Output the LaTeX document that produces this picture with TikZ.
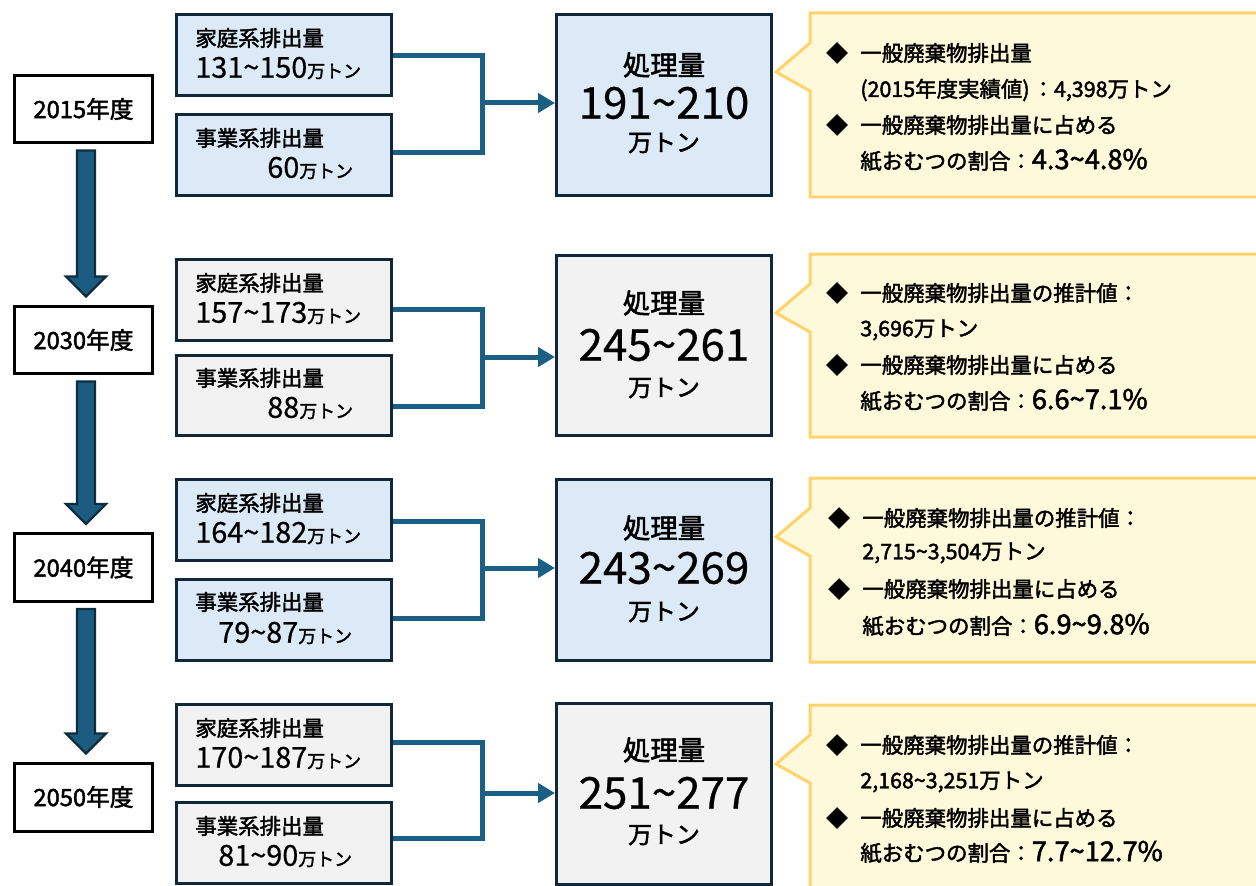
\documentclass[tikz,border=0pt]{standalone}
\usepackage{fontspec}
\setmainfont{Noto Sans CJK JP}[FakeBold=2]
\newfontfamily\regf{Noto Sans CJK JP}[FakeBold=0.6]
\usetikzlibrary{calc,arrows.meta}
\definecolor{navy}{HTML}{10283A}
\definecolor{lblue}{HTML}{DCE9F6}
\definecolor{lgray}{HTML}{F2F2F2}
\definecolor{cconn}{HTML}{1C5F84}
\definecolor{afill}{HTML}{1B5C80}
\definecolor{aedge}{HTML}{0D2C3E}
\definecolor{cfill}{HTML}{FFF9DB}
\definecolor{cedge}{HTML}{FFD36B}
\newcommand\flab{\fontsize{12.2pt}{14pt}\selectfont}
\newcommand\fnum{\regf\fontsize{16.4pt}{18pt}\selectfont}
\newcommand\fman{\rmfamily\fontsize{10.2pt}{12pt}\selectfont}
\newcommand\fyear{\fontsize{13.5pt}{16pt}\selectfont}
\newcommand\fshori{\fontsize{15.6pt}{18pt}\selectfont}
\newcommand\fbig{\regf\fontsize{25pt}{28pt}\selectfont}
\newcommand\fcman{\fontsize{13.6pt}{16pt}\selectfont}
\newcommand\fcal{\fontsize{12.2pt}{14pt}\selectfont}
\newcommand\fpct{\fontsize{15.5pt}{18pt}\selectfont}
\newcommand\tld{\textasciitilde}
\begin{document}
\begin{tikzpicture}[x=0.02cm,y=-0.02cm,
  inbox/.style={draw=navy,line width=0.06cm,inner sep=0,minimum width=4.30cm,minimum height=1.62cm},
  cbox/.style={draw=navy,line width=0.06cm,inner sep=0,minimum width=4.30cm,minimum height=3.62cm},
  ybox/.style={draw=black,fill=white,line width=0.06cm,inner sep=0,minimum width=2.78cm,minimum height=1.36cm,font=\fyear},
  lab/.style={anchor=west,inner sep=0,font=\flab},
  ctr/.style={anchor=center,inner sep=0},
  ctxt/.style={anchor=west,inner sep=0,font=\fcal},
  dia/.style={anchor=center,inner sep=0,font=\fcal},
  cline/.style={draw=cconn,line width=0.1cm},
  carrow/.style={cline,-{Triangle[length=0.34cm,width=0.38cm]}},
  barrow/.style={fill=afill,draw=aedge,line width=0.045cm,line join=miter},
  callout/.style={fill=cfill,draw=cedge,line width=0.06cm,line join=miter}]
\useasboundingbox (0,0) rectangle (1256,885);

% ---------- year boxes ----------
\node[ybox] (y1) at (83.5,109) {2015年度};
\node[ybox] (y2) at (83.5,340) {2030年度};
\node[ybox] (y3) at (83.5,567.5) {2040年度};
\node[ybox] (y4) at (83.5,797) {2050年度};

\newcommand\bigarrow[2]{\draw[barrow] ($(#1.south)+(-6.5,6)$) -- ($(#2.north)+(-6.5,-28)$) -- ($(#2.north)+(-17.5,-28)$) -- ($(#2.north)+(2.5,-8)$) -- ($(#2.north)+(22.5,-28)$) -- ($(#2.north)+(11.5,-28)$) -- ($(#1.south)+(11.5,6)$) -- cycle;}
\bigarrow{y1}{y2}
\bigarrow{y2}{y3}
\bigarrow{y3}{y4}

% ---------- callouts ----------
\newcommand\callout[2]{\draw[callout] (810,#1) -- (1270,#1) -- (1270,#2) -- (810,#2) -- (810,{#1+78}) -- (776,{#1+59}) -- (810,{#1+30}) -- cycle;}
\callout{13}{197}
\callout{254}{437}
\callout{478}{662}
\callout{705}{900}

% ---------- group 1 ----------
\node[inbox,fill=lblue] (a1) at (284,55) {};
\node[inbox,fill=lblue] (b1) at (284,155) {};
\node[cbox,fill=lblue] (c1) at (664,105) {};
\coordinate (j1) at (482,103);
\draw[cline] ($(a1.east)+(0,1)$) -| (j1) |- ($(b1.east)+(0,-2)$);
\draw[carrow] (j1) -- (c1.west |- j1);
\node[lab] (a1l) at (195,38) {家庭系排出量};
\node[lab] (a1n) at (195,68) {\fnum 131\tld150\fman 万トン};
\node[lab] (b1l) at (195,138) {事業系排出量};
\node[lab] (b1n) at (267,168) {\fnum 60\fman 万トン};
\node[ctr,font=\fshori] (c1a) at (664,65) {処理量};
\node[ctr,font=\fbig] (c1b) at (664,103) {191\tld210};
\node[ctr,font=\fcman] (c1c) at (664,143) {万トン};
\node[dia] (d1a) at (837,53) {◆};
\node[ctxt] (t1a) at (860,53) {一般廃棄物排出量};
\node[ctxt] (t1b) at (860,90) {(2015年度実績値)\hspace{0.06cm}：4,398万トン};
\node[dia] (d1b) at (837,125) {◆};
\node[ctxt] (t1c) at (860,125) {一般廃棄物排出量に占める};
\node[ctxt] (t1d) at (860,160) {紙おむつの割合：{\fpct 4.3\tld4.8\%}};

% ---------- group 2 ----------
\node[inbox,fill=lgray] (a2) at (284,300) {};
\node[inbox,fill=lgray] (b2) at (284,395.5) {};
\node[cbox,fill=lgray] (c2) at (664,345.5) {};
\coordinate (j2) at (482,357);
\draw[cline] ($(a2.east)+(0,9)$) -| (j2) |- ($(b2.east)+(0,10.5)$);
\draw[carrow] (j2) -- (c2.west |- j2);
\node[lab] (a2l) at (195,283) {家庭系排出量};
\node[lab] (a2n) at (195,313) {\fnum 157\tld173\fman 万トン};
\node[lab] (b2l) at (195,378) {事業系排出量};
\node[lab] (b2n) at (267,408) {\fnum 88\fman 万トン};
\node[ctr,font=\fshori] (c2a) at (664,303) {処理量};
\node[ctr,font=\fbig] (c2b) at (664,345) {245\tld261};
\node[ctr,font=\fcman] (c2c) at (664,388) {万トン};
\node[dia] (d2a) at (837,293) {◆};
\node[ctxt] (t2a) at (860,293) {一般廃棄物排出量の推計値：};
\node[ctxt] (t2b) at (860,330) {3,696万トン};
\node[dia] (d2b) at (837,365) {◆};
\node[ctxt] (t2c) at (860,365) {一般廃棄物排出量に占める};
\node[ctxt] (t2d) at (860,400) {紙おむつの割合：{\fpct 6.6\tld7.1\%}};

% ---------- group 3 ----------
\node[inbox,fill=lblue] (a3) at (284,520) {};
\node[inbox,fill=lblue] (b3) at (284,620) {};
\node[cbox,fill=lblue] (c3) at (664,570) {};
\coordinate (j3) at (482,568);
\draw[cline] ($(a3.east)+(0,1)$) -| (j3) |- ($(b3.east)+(0,-2)$);
\draw[carrow] (j3) -- (c3.west |- j3);
\node[lab] (a3l) at (195,503) {家庭系排出量};
\node[lab] (a3n) at (195,533) {\fnum 164\tld182\fman 万トン};
\node[lab] (b3l) at (195,602) {事業系排出量};
\node[lab] (b3n) at (218,633) {\fnum 79\tld87\fman 万トン};
\node[ctr,font=\fshori] (c3a) at (664,528) {処理量};
\node[ctr,font=\fbig] (c3b) at (664,568) {243\tld269};
\node[ctr,font=\fcman] (c3c) at (664,612) {万トン};
\node[dia] (d3a) at (839,518) {◆};
\node[ctxt] (t3a) at (862,518) {一般廃棄物排出量の推計値：};
\node[ctxt] (t3b) at (862,553) {2,715\tld3,504万トン};
\node[dia] (d3b) at (839,589) {◆};
\node[ctxt] (t3c) at (862,589) {一般廃棄物排出量に占める};
\node[ctxt] (t3d) at (862,625) {紙おむつの割合：{\fpct 6.9\tld9.8\%}};

% ---------- group 4 ----------
\node[inbox,fill=lgray] (a4) at (284,745) {};
\node[inbox,fill=lgray] (b4) at (284,843) {};
\node[cbox,fill=lgray] (c4) at (664,794) {};
\coordinate (j4) at (482,793);
\draw[cline] ($(a4.east)+(0,-3)$) -| (j4) |- ($(b4.east)+(0,-5)$);
\draw[carrow] (j4) -- (c4.west |- j4);
\node[lab] (a4l) at (195,728) {家庭系排出量};
\node[lab] (a4n) at (195,758) {\fnum 170\tld187\fman 万トン};
\node[lab] (b4l) at (195,826) {事業系排出量};
\node[lab] (b4n) at (218,856) {\fnum 81\tld90\fman 万トン};
\node[ctr,font=\fshori] (c4a) at (664,750) {処理量};
\node[ctr,font=\fbig] (c4b) at (664,793) {251\tld277};
\node[ctr,font=\fcman] (c4c) at (664,835) {万トン};
\node[dia] (d4a) at (837,745) {◆};
\node[ctxt] (t4a) at (860,745) {一般廃棄物排出量の推計値：};
\node[ctxt] (t4b) at (860,782) {2,168\tld3,251万トン};
\node[dia] (d4b) at (837,818) {◆};
\node[ctxt] (t4c) at (860,818) {一般廃棄物排出量に占める};
\node[ctxt] (t4d) at (860,852) {紙おむつの割合：{\fpct 7.7\tld12.7\%}};
\end{tikzpicture}
\end{document}
